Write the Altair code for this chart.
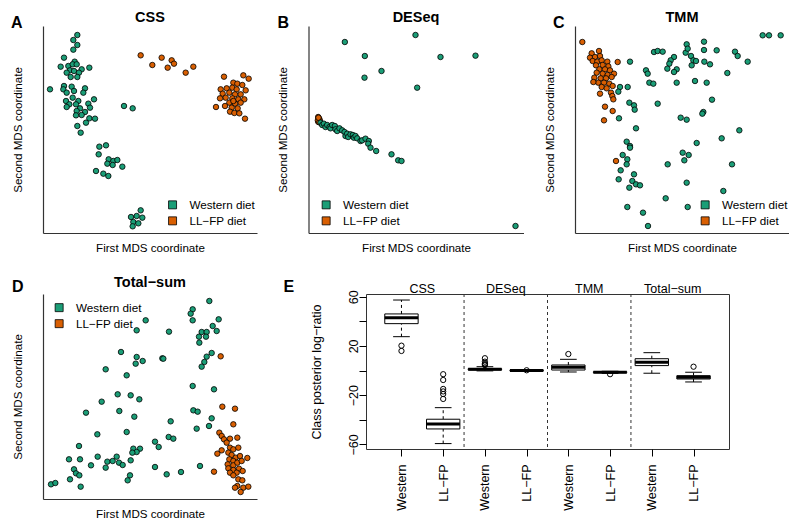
import altair as alt
import pandas as pd

GREEN = "#1b9e77"
ORANGE = "#d95f02"
DIETS = ["Western diet", "LL\u2212FP diet"]
FONT = "Liberation Sans"

# ---------------- MDS coordinates (arbitrary MDS units) ----------------
# Panel A: CSS
a_w_x = [232, 220, 232, 220, 192, 224, 182, 205, 218, 230, 245, 268, 210, 222, 237, 200, 212, 232,
         150, 192, 215, 190, 255, 200, 222, 250, 218, 198, 235, 282, 208, 228, 265, 200, 240, 270,
         230, 255, 228, 245, 268, 285, 258, 232, 242, 372, 398,
         298, 318, 296, 326, 340, 352, 322, 338, 367, 288, 310, 325,
         422, 393, 410, 427, 400, 415, 398]
a_w_y = [102, 117, 132, 146, 170, 182, 197, 195, 190, 190, 205, 200, 208, 210, 215, 215, 228, 228,
         265, 255, 257, 265, 262, 275, 270, 275, 290, 300, 300, 295, 310, 310, 308, 318, 322, 320,
         330, 333, 343, 342, 352, 353, 365, 375, 395, 315, 322,
         437, 433, 460, 475, 480, 477, 488, 492, 497, 510, 518, 525,
         628, 648, 645, 650, 663, 667, 676]
a_l_x = [422, 485, 457, 515, 522, 503, 580, 557,
         672, 730, 746, 700, 712, 727, 662, 680, 697, 710, 737, 668, 688, 705, 722, 677, 697, 715,
         733, 660, 688, 705, 722, 648, 675, 695, 713, 690, 703, 718, 735, 700]
a_l_y = [163, 170, 192, 178, 188, 200, 197, 215,
         227, 223, 233, 245, 248, 252, 265, 262, 260, 265, 268, 278, 275, 280, 280, 290, 292, 295,
         295, 292, 305, 308, 305, 318, 315, 320, 322, 332, 336, 337, 353, 300]

# Panel B: DESeq
b_w_x = [238, 450, 298, 525, 630, 348, 297, 455, 750,
         165, 170, 175, 180, 185, 192, 195, 200, 208, 210, 215, 222, 230, 237, 240, 245, 248, 255,
         262, 265, 270, 275, 285, 290, 300, 310, 308, 315, 332, 378, 398, 408]
b_w_y = [123, 102, 165, 168, 164, 210, 230, 260, 675,
         365, 372, 368, 378, 372, 378, 382, 372, 375, 385, 390, 382, 388, 393, 405, 398, 408, 400,
         402, 410, 405, 412, 420, 418, 413, 420, 428, 440, 450, 460, 478, 480]
b_l_x = [158, 158, 162, 160, 163, 157, 161, 159]
b_l_y = [348, 362, 355, 352, 360, 358, 364, 350]

# Panel C: TMM
c_w_x = [698, 717, 752, 470, 522, 372, 383, 398, 467, 473, 522, 560, 615, 623, 653, 483, 490, 485,
         498, 523, 540, 432, 422, 418, 412, 440, 432, 300, 348, 353, 592, 358, 370, 440, 495, 530,
         270, 293, 265, 298, 312, 314, 383, 546, 520, 517, 267, 452, 470, 318, 628, 575, 290, 300,
         300, 500, 458, 476, 463, 278, 292, 290, 413, 606, 272, 266, 312, 307, 318, 330, 298, 470,
         580, 407, 473, 292, 339, 354]
c_w_y = [103, 103, 103, 130, 122, 153, 150, 152, 155, 143, 147, 148, 152, 165, 182, 165, 178, 193,
         180, 182, 190, 168, 178, 188, 203, 205, 213, 182, 208, 218, 216, 245, 248, 245, 240, 245,
         258, 258, 272, 305, 313, 326, 308, 296, 333, 338, 352, 350, 356, 382, 388, 412, 422, 435,
         440, 426, 455, 462, 478, 462, 475, 490, 490, 490, 508, 535, 520, 540, 550, 553, 560, 545,
         570, 592, 618, 618, 635, 675]
c_l_x = [157, 185, 207, 180, 195, 210, 188, 202, 215, 232, 263, 198, 218, 235, 208, 225, 240, 200,
         218, 233, 252, 193, 212, 228, 245, 205, 222, 238, 190, 215, 230, 248, 210, 243, 247, 250,
         225, 248, 222, 258]
c_l_y = [123, 157, 150, 170, 168, 165, 180, 182, 178, 182, 183, 193, 192, 196, 205, 205, 208, 215,
         218, 222, 218, 230, 232, 232, 228, 245, 245, 248, 243, 258, 262, 255, 278, 275, 285, 295,
         317, 330, 358, 480]

# Panel D: Total-sum
d_w_x = [628, 578, 572, 656, 578, 437, 410, 507, 638, 650, 605, 620, 597, 618, 598, 363, 410, 428,
         407, 487, 490, 635, 620, 613, 605, 317, 380, 578, 642, 353, 392, 418, 305, 358, 258, 403,
         580, 593, 635, 512, 590, 627, 380, 292, 506, 520, 465, 476, 237, 400, 420, 410, 397, 207,
         240, 293, 350, 322, 338, 357, 368, 392, 273, 317, 465, 600, 222, 228, 238, 390, 500, 543,
         210, 383, 153, 166, 242]
d_w_y = [105, 130, 143, 160, 163, 163, 193, 197, 180, 195, 198, 198, 212, 212, 230, 258, 273, 285,
         293, 277, 278, 261, 272, 288, 302, 310, 328, 360, 370, 385, 388, 400, 407, 435, 440, 452,
         433, 437, 457, 466, 488, 480, 498, 505, 513, 518, 527, 543, 540, 548, 548, 558, 560, 580,
         580, 572, 572, 587, 585, 590, 597, 583, 598, 605, 603, 600, 610, 622, 628, 628, 625, 618,
         640, 643, 655, 651, 662]
d_l_x = [662, 667, 705, 700, 658, 665, 672, 690, 712, 680, 690, 700, 715, 665, 652, 685, 695, 707,
         720, 742, 688, 700, 683, 700, 712, 725, 685, 700, 717, 642, 690, 710, 728, 700, 715, 727,
         712, 730, 745, 722, 705]
d_l_y = [271, 422, 428, 475, 500, 510, 520, 518, 515, 530, 545, 550, 545, 553, 563, 560, 567, 575,
         570, 576, 580, 585, 595, 598, 590, 585, 607, 612, 608, 617, 620, 620, 615, 628, 640, 643,
         660, 665, 662, 678, 665]

# ---------------- Panel E: class posterior log-ratio box plots ----------------
box_pos = [1, 2, 3, 4, 5, 6, 7, 8]
box_diet = ["Western", "LL\u2212FP"] * 4
box_lower = [27.5, -59.4, -0.3, -0.5, -1.2, -2.3, -2.2, -9.3]
box_q1 = [38.1, -47.5, 0.4, -0.3, 0.4, -1.8, 4.0, -6.9]
box_median = [42.9, -43.4, 1.0, 0.1, 2.6, -1.4, 6.7, -5.5]
box_q3 = [46.0, -39.6, 1.5, 0.4, 4.5, -1.0, 9.6, -4.2]
box_upper = [57.3, -30.2, 3.1, 0.6, 9.1, -0.6, 14.5, -1.4]
out_pos = [1, 1, 2, 2, 2, 2, 2, 2, 3, 3, 3, 3, 3, 4, 5, 6, 8]
out_val = [20.2, 15.9, -3.0, -7.7, -15.0, -17.0, -19.1, -23.1, 4.4, 5.0, 5.8, 7.2, 10.0, 0.2,
           13.4, -3.0, 3.1]
group_names = ["CSS", "DESeq", "TMM", "Total\u2212sum"]
group_pos = [1.5, 3.5, 5.5, 7.5]
sep_pos = [2.5, 4.5, 6.5]


def label_layer(text, x, y, size, bold, align):
    return alt.Chart(pd.DataFrame({"t": [text]})).mark_text(
        fontSize=size, fontWeight="bold" if bold else "normal", align=align,
        baseline="alphabetic", color="black"
    ).encode(text="t:N", x=alt.value(x), y=alt.value(y))


def scatter(wx, wy, lx, ly, title, letter, xdom, ydom, w, h, leg_xy, title_off, letter_xy):
    df = pd.DataFrame({
        "mds1": lx + wx,
        "mds2": ly + wy,
        "diet": [DIETS[1]] * len(lx) + [DIETS[0]] * len(wx),
    })
    pts = alt.Chart(df).mark_circle(size=30, opacity=1, stroke="black", strokeWidth=0.8).encode(
        x=alt.X("mds1:Q", scale=alt.Scale(domain=xdom, nice=False, zero=False),
                axis=alt.Axis(title="First MDS coordinate", ticks=False, labels=False, grid=False,
                              domainColor="#333333", domainWidth=1.2, titleFontSize=11.6,
                              titleFontWeight="normal", titlePadding=9, titleColor="black")),
        y=alt.Y("mds2:Q", scale=alt.Scale(domain=ydom, reverse=True, nice=False, zero=False),
                axis=alt.Axis(title="Second MDS coordinate", ticks=False, labels=False, grid=False,
                              domainColor="#333333", domainWidth=1.2, titleFontSize=11.6,
                              titleFontWeight="normal", titlePadding=20, titleColor="black")),
        color=alt.Color("diet:N", scale=alt.Scale(domain=DIETS, range=[GREEN, ORANGE]),
                        legend=alt.Legend(title=None, orient="none", legendX=leg_xy[0],
                                          legendY=leg_xy[1], direction="vertical",
                                          symbolType="square", symbolSize=64,
                                          symbolStrokeColor="black", symbolStrokeWidth=0.8,
                                          symbolOpacity=1, labelFontSize=11.7, labelColor="black",
                                          labelOffset=11, rowPadding=3, padding=0)),
    )
    lab = label_layer(letter, letter_xy[0], letter_xy[1], 16, True, "left")
    ttl = label_layer(title, w / 2, -title_off, 14.5, True, "center")
    return alt.layer(pts, lab, ttl).properties(width=w, height=h)


A = scatter(a_w_x, a_w_y, a_l_x, a_l_y, "CSS", "A", [129, 771], [75, 696], 214, 207,
            (123.7, 173), 4.3, (-32, 1.7))
B = scatter(b_w_x, b_w_y, b_l_x, b_l_y, "DESeq", "B", [129, 774], [75, 696], 215, 207,
            (11.8, 173), 4.3, (-31, 1.7))
C = scatter(c_w_x, c_w_y, c_l_x, c_l_y, "TMM", "C", [135, 777], [75, 696], 214, 207,
            (124.3, 173), 4.3, (-22, 1.7))
D = scatter(d_w_x, d_w_y, d_l_x, d_l_y, "Total\u2212sum", "D", [129, 771], [84, 699], 214, 205,
            (10.3, 7.8), 6.6, (-31, -1.6))

# ---- Panel E ----
box_df = pd.DataFrame({"pos": box_pos, "diet": box_diet, "lower": box_lower, "q1": box_q1,
                       "median": box_median, "q3": box_q3, "upper": box_upper})
out_df = pd.DataFrame({"pos": out_pos, "value": out_val})
grp_df = pd.DataFrame({"group": group_names, "gpos": group_pos})
sep_df = pd.DataFrame({"sep": sep_pos})

xs = alt.Scale(domain=[0.15, 8.85], nice=False, zero=False)
ys = alt.Scale(domain=[-63.8, 62.2], nice=False, zero=False)

x_axis = alt.Axis(values=box_pos, labelExpr="datum.value % 2 == 1 ? 'Western' : 'LL\u2212FP'",
                  labelAngle=270, labelAlign="right", labelBaseline="middle", tickSize=7,
                  labelPadding=8, domain=False, grid=False, title=None, labelFontSize=12.5,
                  labelColor="black", tickColor="black")
y_axis = alt.Axis(values=[-60, -40, -20, 0, 20, 40, 60],
                  labelExpr="abs(datum.value) % 40 == 20 ? datum.label : ''",
                  labelAngle=270, labelAlign="center", labelBaseline="alphabetic", tickSize=7,
                  labelPadding=2, domain=False, grid=False, title="Class posterior log\u2212ratio",
                  titleFontSize=12.5, titleFontWeight="normal", titlePadding=24,
                  labelFontSize=12.5, labelColor="black", tickColor="black", titleColor="black")


def X(field):
    return alt.X(field, scale=xs, axis=x_axis)


def Y(field):
    return alt.Y(field, scale=ys, axis=y_axis)


base = alt.Chart(box_df).transform_calculate(
    xl="datum.pos - 0.4", xr="datum.pos + 0.4", sl="datum.pos - 0.2", sr="datum.pos + 0.2")

whisk_up = base.mark_rule(strokeDash=[3, 3], color="black", strokeWidth=1).encode(
    x=X("pos:Q"), y=Y("q3:Q"), y2="upper:Q")
whisk_lo = base.mark_rule(strokeDash=[3, 3], color="black", strokeWidth=1).encode(
    x=X("pos:Q"), y=Y("lower:Q"), y2="q1:Q")
staple_up = base.mark_rule(color="black", strokeWidth=1).encode(
    x=X("sl:Q"), x2="sr:Q", y=Y("upper:Q"))
staple_lo = base.mark_rule(color="black", strokeWidth=1).encode(
    x=X("sl:Q"), x2="sr:Q", y=Y("lower:Q"))
boxes = base.mark_rect(fill="white", stroke="black", strokeWidth=1).encode(
    x=X("xl:Q"), x2="xr:Q", y=Y("q1:Q"), y2="q3:Q")
medians = base.mark_rule(color="black", strokeWidth=3, strokeCap="butt").encode(
    x=X("xl:Q"), x2="xr:Q", y=Y("median:Q"))
outs = alt.Chart(out_df).mark_point(shape="circle", filled=False, size=28, color="black",
                                    strokeWidth=1, opacity=1).encode(
    x=X("pos:Q"), y=Y("value:Q"))
seps = alt.Chart(sep_df).mark_rule(strokeDash=[3, 3], color="#333333", strokeWidth=1).encode(
    x=X("sep:Q"))
glabs = alt.Chart(grp_df).mark_text(fontSize=12.5, baseline="alphabetic", color="black").encode(
    x=X("gpos:Q"), y=alt.value(-1), text="group:N")
elab = label_layer("E", -82.5, -2, 16, True, "left")

E = alt.layer(whisk_up, seps, whisk_lo, staple_up, staple_lo, boxes, medians, outs, glabs,
              elab).properties(width=363, height=155,
                               view=alt.ViewBackground(stroke="#333333", strokeWidth=1))

top = alt.hconcat(A, B, C, spacing=51.5, bounds="flush").resolve_scale(color="independent")
bottom = alt.hconcat(D, E, spacing=109, bounds="flush").resolve_scale(color="independent")
chart = alt.vconcat(top, bottom, spacing=21).resolve_scale(
    color="independent"
).properties(
    padding={"left": 3, "top": 1, "right": 0, "bottom": 0}
).configure(font=FONT).configure_view(stroke=None)

chart.save("out.html", embed_options={"renderer": "svg", "actions": False})
